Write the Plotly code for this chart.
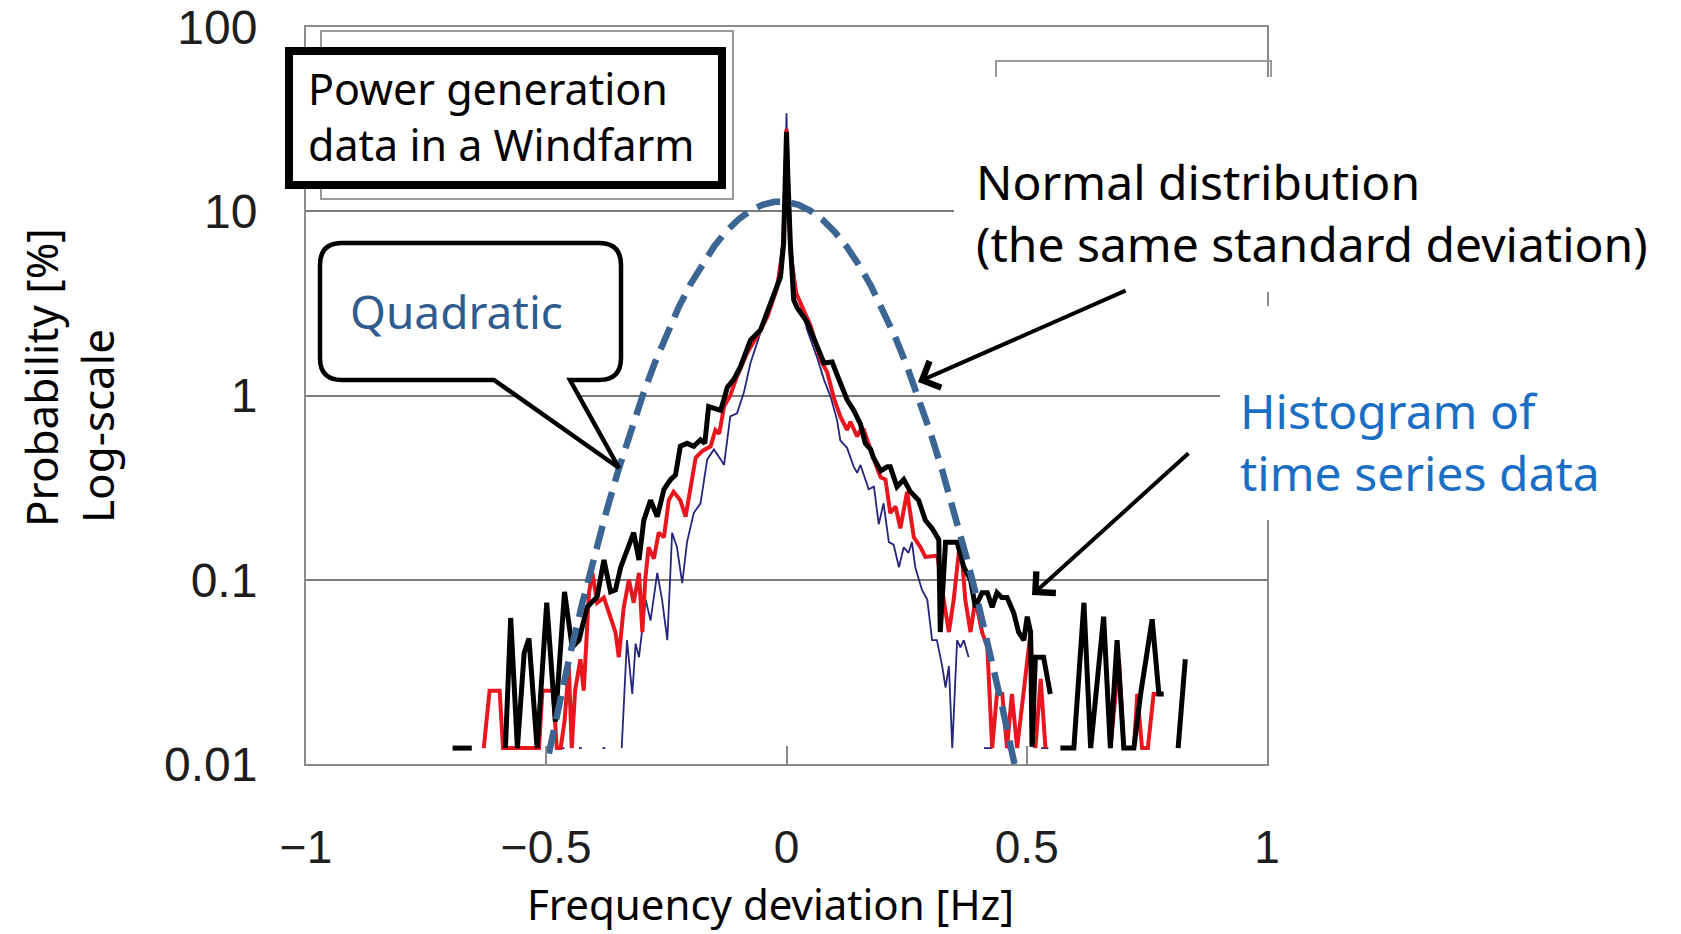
import plotly.graph_objects as go

W, H = 1681, 934

# ---------------- data ----------------
x_tick_vals = [-1, -0.5, 0, 0.5, 1]
x_tick_text = ["\u22121", "\u22120.5", "0", "0.5", "1"]
y_tick_vals = [0.01, 0.1, 1, 10, 100]
y_tick_text = ["0.01", "0.1", "1", "10", "100"]

black_x = [-0.695, -0.655, None,
           -0.585, -0.574, -0.560, -0.546, -0.536, -0.527, -0.519, -0.499, -0.489, -0.481,
           -0.462, -0.446, -0.432, -0.415, -0.394, -0.380, -0.366, -0.356, -0.345, -0.332,
           -0.318, -0.307, -0.297, -0.283, -0.269, -0.255, -0.241, -0.231, -0.221, -0.207,
           -0.193, -0.179, -0.170, -0.162, -0.150, -0.137, -0.123, -0.110, -0.096, -0.075,
           -0.054, -0.040, -0.033, -0.023, -0.0125, -0.006, -0.002, 0.0, 0.003, 0.008,
           0.015, 0.022, 0.043, 0.057, 0.064, 0.078, 0.095, 0.105, 0.112, 0.126,
           0.140, 0.154, 0.164, 0.175, 0.181, 0.196, 0.210, 0.216, 0.230, 0.244,
           0.258, 0.275, 0.289, 0.303, 0.317, 0.320, 0.331, 0.355, 0.369, 0.383,
           0.393, 0.407, 0.418, 0.428, 0.438, 0.448, 0.459, 0.473, 0.483, 0.494,
           0.501, 0.508, 0.511, 0.518, 0.535, 0.549, None,
           0.570, 0.598, 0.619, 0.633, 0.660, 0.674, 0.688, 0.702, 0.723, 0.737, 0.761, 0.775, 0.785,
           None, 0.815, 0.830]
black_y = [0.0122, 0.0122, None,
           0.0122, 0.062, 0.0122, 0.040, 0.048, 0.022, 0.0122, 0.075, 0.030, 0.017,
           0.086, 0.043, 0.047, 0.071, 0.081, 0.128, 0.086, 0.088, 0.117, 0.145,
           0.180, 0.128, 0.210, 0.270, 0.220, 0.310, 0.350, 0.370, 0.530, 0.550,
           0.530, 0.575, 0.550, 0.870, 0.850, 0.830, 1.11, 1.22, 1.43, 2.0,
           2.27, 2.8, 3.16, 3.74, 4.4, 6.7, 15.0, 27.0, 15.0, 6.7,
           3.3, 3.0, 2.5, 2.0, 1.84, 1.5, 1.52, 1.3, 1.17, 0.95,
           0.83, 0.70, 0.55, 0.51, 0.46, 0.39, 0.41, 0.41, 0.32, 0.35,
           0.30, 0.27, 0.21, 0.19, 0.165, 0.052, 0.16, 0.16, 0.117, 0.100,
           0.071, 0.085, 0.085, 0.071, 0.085, 0.080, 0.080, 0.066, 0.052, 0.047,
           0.063, 0.052, 0.0124, 0.038, 0.038, 0.024, None,
           0.0122, 0.0122, 0.075, 0.0122, 0.063, 0.0122, 0.047, 0.0122, 0.0122, 0.024, 0.061, 0.024, 0.024,
           None, 0.0122, 0.037]

red_x = [-0.630, -0.618, -0.597, -0.590, -0.515, -0.508, -0.486, -0.478, -0.470, -0.462,
         -0.453, -0.447, -0.440, -0.429, -0.422, -0.411, -0.404, -0.394, -0.380, -0.370,
         -0.356, -0.349, -0.339, -0.328, -0.318, -0.307, -0.300, -0.294, -0.287, -0.276,
         -0.266, -0.255, -0.245, -0.235, -0.221, -0.210, -0.200, -0.189, -0.175, -0.158,
         -0.148, -0.140, -0.130, -0.117, -0.103, -0.082, -0.061, -0.040, -0.020, -0.008,
         -0.002, 0.0, 0.003, 0.008, 0.020, 0.036, 0.050, 0.071, 0.085, 0.098,
         0.112, 0.126, 0.133, 0.147, 0.154, 0.161, 0.175, 0.189, 0.196, 0.206,
         0.216, 0.227, 0.237, 0.251, 0.265, 0.279, 0.289, 0.303, 0.314, 0.327,
         0.338, 0.348, 0.362, 0.372, 0.383, 0.393, 0.407, 0.418, 0.428, 0.438,
         0.449, 0.459, 0.469, 0.480, 0.494, 0.508, 0.518, 0.529, 0.539,
         None, 0.674, 0.692, 0.702,
         None, 0.723, 0.730, 0.740, 0.752, 0.764, 0.775]
red_y = [0.0122, 0.025, 0.025, 0.0122, 0.0122, 0.025, 0.025, 0.0122, 0.0122, 0.017,
         0.034, 0.0122, 0.025, 0.037, 0.025, 0.085, 0.109, 0.075, 0.080, 0.066,
         0.052, 0.038, 0.070, 0.100, 0.075, 0.109, 0.052, 0.100, 0.150, 0.130,
         0.180, 0.170, 0.270, 0.300, 0.270, 0.220, 0.320, 0.460, 0.500, 0.530,
         0.650, 0.620, 0.870, 1.0, 1.27, 1.7, 2.1, 2.67, 3.8, 6.0,
         15.0, 28.0, 15.0, 6.0, 3.6, 2.9, 2.4, 1.56, 1.33, 0.98,
         0.77, 0.65, 0.72, 0.60, 0.65, 0.65, 0.50, 0.40, 0.36, 0.35,
         0.23, 0.25, 0.19, 0.30, 0.17, 0.15, 0.133, 0.135, 0.135, 0.078,
         0.052, 0.078, 0.17, 0.078, 0.052, 0.078, 0.052, 0.043, 0.0122, 0.024,
         0.024, 0.0122, 0.024, 0.0122, 0.024, 0.052, 0.0122, 0.029, 0.0122,
         None, 0.0122, 0.037, 0.0122,
         None, 0.0122, 0.024, 0.0122, 0.0122, 0.024, 0.024]

navy_x = [-0.470, -0.462, None, -0.432, -0.426, None, -0.383, -0.377, None,
          -0.343, -0.332, -0.321, -0.314, -0.307, -0.293, -0.283, -0.269, -0.259, -0.248,
          -0.238, -0.228, -0.217, -0.207, -0.193, -0.179, -0.165, -0.151, -0.137, -0.130,
          -0.117, -0.103, -0.089, -0.075, -0.054, -0.033, -0.019, -0.008, -0.002, 0.0,
          0.002, 0.008, 0.020, 0.043, 0.064, 0.078, 0.092, 0.105, 0.112, 0.126,
          0.140, 0.147, 0.154, 0.164, 0.171, 0.182, 0.192, 0.202, 0.213, 0.223,
          0.234, 0.244, 0.254, 0.261, 0.268, 0.282, 0.293, 0.303, 0.313, 0.324,
          0.331, 0.338, 0.345, 0.355, 0.362, 0.369, 0.379,
          None, 0.411, 0.428, None, 0.460, 0.470, None, 0.530, 0.545]
navy_y = [0.0122, 0.0122, None, 0.0122, 0.0122, None, 0.0122, 0.0122, None,
          0.0122, 0.047, 0.024, 0.045, 0.038, 0.078, 0.060, 0.109, 0.078, 0.047,
          0.180, 0.150, 0.096, 0.160, 0.230, 0.260, 0.450, 0.510, 0.450, 0.420,
          0.770, 0.800, 1.03, 1.5, 2.2, 3.1, 4.2, 7.0, 18.0, 34.0,
          18.0, 7.0, 3.8, 2.27, 1.6, 1.22, 0.98, 0.74, 0.57, 0.52,
          0.41, 0.38, 0.42, 0.35, 0.31, 0.32, 0.20, 0.26, 0.16, 0.155,
          0.117, 0.150, 0.140, 0.160, 0.117, 0.088, 0.078, 0.047, 0.047, 0.034,
          0.026, 0.034, 0.0122, 0.047, 0.043, 0.047, 0.038,
          None, 0.0122, 0.0122, None, 0.0122, 0.0122, None, 0.0122, 0.0122]

normal_x = [-0.525, -0.5, -0.475, -0.45, -0.425, -0.4, -0.375, -0.35, -0.325, -0.3,
            -0.275, -0.25, -0.225, -0.2, -0.175, -0.15, -0.125, -0.1, -0.075, -0.05,
            -0.025, 0.0, 0.025, 0.05, 0.075, 0.1, 0.125, 0.15, 0.175, 0.2,
            0.225, 0.25, 0.275, 0.3, 0.325, 0.35, 0.375, 0.4, 0.425, 0.45,
            0.475, 0.5]
normal_y = [0.00484, 0.0101, 0.0205, 0.0398, 0.0745, 0.1345, 0.234, 0.393, 0.634, 0.988,
            1.483, 2.145, 2.99, 4.016, 5.198, 6.485, 7.797, 9.033, 10.085, 10.85,
            11.25, 11.24, 10.83, 10.05, 8.99, 7.745, 6.433, 5.148, 3.971, 2.953,
            2.115, 1.460, 0.971, 0.623, 0.385, 0.229, 0.131, 0.0727, 0.0387, 0.0199,
            0.00984, 0.00469]

assert len(black_x) == len(black_y)
assert len(red_x) == len(red_y)
assert len(navy_x) == len(navy_y)
assert len(normal_x) == len(normal_y)

# ---------------- helpers: pixel -> paper ----------------
def px(X):
    return X / W

def py(Y):
    return 1 - Y / H

def path_from(cmds):
    out = []
    for c in cmds:
        op = c[0]
        pts = c[1:]
        coords = []
        for i in range(0, len(pts), 2):
            coords.append(f"{px(pts[i]):.5f},{py(pts[i+1]):.5f}")
        out.append(op + " " + " ".join(coords) if coords else op)
    return " ".join(out)

fig = go.Figure()

fig.add_trace(go.Scatter(x=navy_x, y=navy_y, mode="lines",
                         line=dict(color="#25257c", width=1.8),
                         hoverinfo="skip", showlegend=False))
fig.add_trace(go.Scatter(x=red_x, y=red_y, mode="lines",
                         line=dict(color="#e8161e", width=4),
                         hoverinfo="skip", showlegend=False))
fig.add_trace(go.Scatter(x=black_x, y=black_y, mode="lines",
                         line=dict(color="#000000", width=5),
                         hoverinfo="skip", showlegend=False))
fig.add_trace(go.Scatter(x=normal_x, y=normal_y, mode="lines",
                         line=dict(color="#3b6593", width=6.5, dash="24px,11px"),
                         hoverinfo="skip", showlegend=False))

x_tick_font = dict(family="Liberation Sans, Arial, sans-serif", size=46, color="#1e1e1e")
y_tick_font = dict(family="Liberation Sans, Arial, sans-serif", size=48, color="#1e1e1e")

fig.update_layout(
    width=W, height=H,
    margin=dict(l=0, r=0, t=0, b=0, autoexpand=False),
    paper_bgcolor="white",
    plot_bgcolor="rgba(0,0,0,0)",
    showlegend=False,
    xaxis=dict(domain=[px(306), px(1267)], range=[-1, 1], automargin=False,
               tickvals=x_tick_vals, ticktext=x_tick_text,
               ticks="inside", ticklen=18, tickwidth=1.5, tickcolor="#8a8a8a",
               showline=True, mirror=True, linecolor="#8c8c8c", linewidth=2,
               showgrid=False, zeroline=False, tickfont=x_tick_font,
               ticklabelstandoff=42),
    yaxis=dict(domain=[py(764), py(27)], type="log", range=[-2, 2], automargin=False,
               tickvals=y_tick_vals, ticktext=y_tick_text, ticks="",
               showline=True, mirror=True, linecolor="#8c8c8c", linewidth=2,
               showgrid=True, gridcolor="#7a7a7a", gridwidth=1.8,
               zeroline=False, tickfont=y_tick_font, ticklabelstandoff=37),
)

shapes = []
# grey legend frame remnants
shapes.append(dict(type="rect", xref="paper", yref="paper",
                   x0=px(321), x1=px(733), y0=py(31), y1=py(199),
                   line=dict(color="#9a9a9a", width=2), fillcolor="rgba(0,0,0,0)", layer="above"))
shapes.append(dict(type="rect", xref="paper", yref="paper",
                   x0=px(996), x1=px(1271), y0=py(61), y1=py(130),
                   line=dict(color="#9a9a9a", width=2), fillcolor="rgba(0,0,0,0)", layer="above"))
# black title box
shapes.append(dict(type="rect", xref="paper", yref="paper",
                   x0=px(289), x1=px(722), y0=py(51), y1=py(185),
                   line=dict(color="black", width=8), fillcolor="white", layer="above"))
# white masks behind right-hand texts
shapes.append(dict(type="rect", xref="paper", yref="paper",
                   x0=px(954), x1=px(1681), y0=py(77), y1=py(292),
                   line=dict(width=0), fillcolor="white", layer="above"))
shapes.append(dict(type="rect", xref="paper", yref="paper",
                   x0=px(1220), x1=px(1681), y0=py(306), y1=py(520),
                   line=dict(width=0), fillcolor="white", layer="above"))
# speech-bubble callout
callout = path_from([
    ("M", 342, 243), ("L", 599, 243), ("Q", 621, 243, 621, 265), ("L", 621, 358),
    ("Q", 621, 380, 599, 380), ("L", 570, 380), ("L", 619, 468), ("L", 494, 380),
    ("L", 342, 380), ("Q", 320, 380, 320, 358), ("L", 320, 265),
    ("Q", 320, 243, 342, 243), ("Z",)
])
shapes.append(dict(type="path", xref="paper", yref="paper", path=callout,
                   line=dict(color="black", width=4.5), fillcolor="white", layer="above"))
fig.update_layout(shapes=shapes)

txt_font = "Noto Sans, Open Sans, sans-serif"
ann = []
ann.append(dict(xref="paper", yref="paper", x=px(306), y=py(116), xanchor="left", yanchor="middle",
                text="Power generation<br>data in a Windfarm", align="left", showarrow=False,
                font=dict(family=txt_font, size=43, color="black")))
ann.append(dict(xref="paper", yref="paper", x=px(457), y=py(311), xanchor="center", yanchor="middle",
                text="Quadratic", showarrow=False,
                font=dict(family=txt_font, size=46, color="#2f5c8f")))
ann.append(dict(xref="paper", yref="paper", x=px(974), y=py(213), xanchor="left", yanchor="middle",
                text="Normal distribution<br>(the same standard deviation)", align="left", showarrow=False,
                font=dict(family=txt_font, size=48, color="black")))
ann.append(dict(xref="paper", yref="paper", x=px(1238), y=py(441), xanchor="left", yanchor="middle",
                text="Histogram of<br>time series data", align="left", showarrow=False,
                font=dict(family=txt_font, size=48, color="#1a6fc4")))
# arrows
ann.append(dict(xref="paper", yref="paper", x=px(918), y=py(382), ax=209, ay=-92,
                text="", showarrow=True, arrowhead=4, arrowsize=1.4, arrowwidth=4,
                arrowcolor="black", standoff=0))
ann.append(dict(xref="paper", yref="paper", x=px(1032), y=py(595), ax=158, ay=-143,
                text="", showarrow=True, arrowhead=4, arrowsize=1.4, arrowwidth=4,
                arrowcolor="black", standoff=0))
# axis titles
ann.append(dict(xref="paper", yref="paper", x=px(770), y=py(903), xanchor="center", yanchor="middle",
                text="Frequency deviation [Hz]", showarrow=False,
                font=dict(family=txt_font, size=42, color="black")))
ann.append(dict(xref="paper", yref="paper", x=px(41), y=py(378), xanchor="center", yanchor="middle",
                text="Probability [%]", textangle=-90, showarrow=False,
                font=dict(family=txt_font, size=44, color="black")))
ann.append(dict(xref="paper", yref="paper", x=px(97), y=py(426), xanchor="center", yanchor="middle",
                text="Log-scale", textangle=-90, showarrow=False,
                font=dict(family=txt_font, size=44, color="black")))
fig.update_layout(annotations=ann)

fig.write_html("out.html")
